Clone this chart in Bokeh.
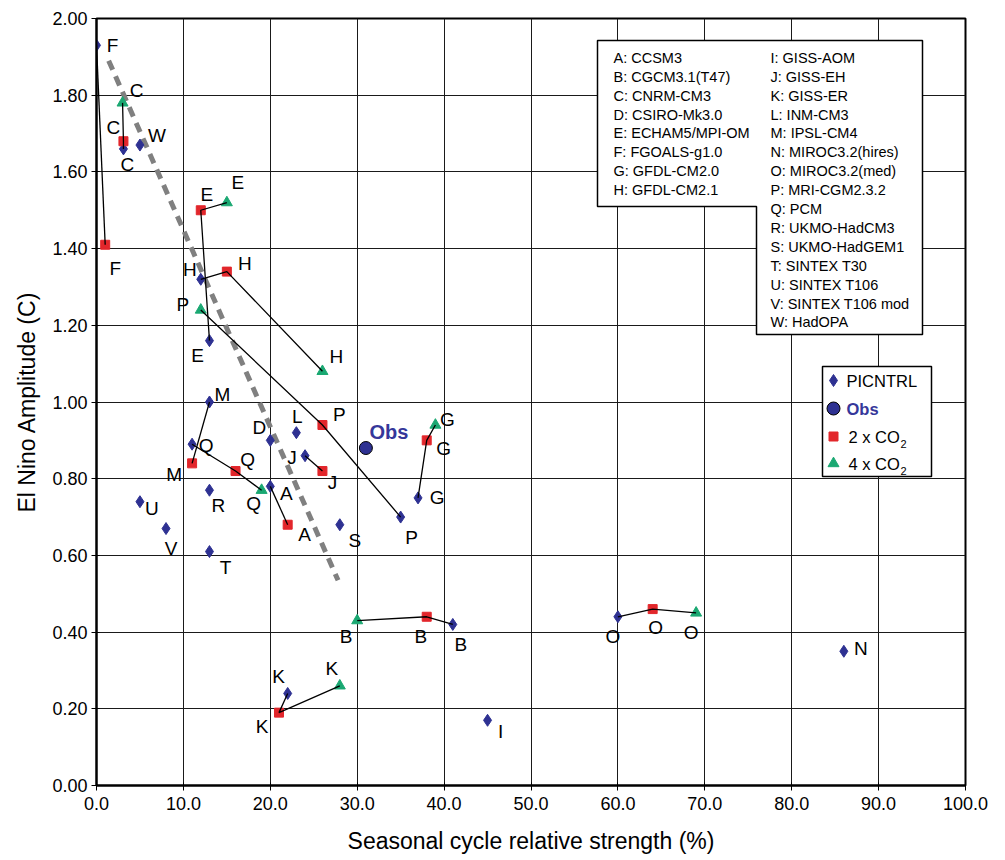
from bokeh.plotting import figure
from bokeh.models import FixedTicker, PrintfTickFormatter, ColumnDataSource, Range1d
from bokeh.core.properties import value
from bokeh.embed import file_html
from bokeh.resources import INLINE

# ---------------- data ----------------
pic_models = ["A", "B", "C", "D", "E", "F", "G", "H", "I", "J", "K", "L",
              "M", "N", "O", "P", "Q", "R", "S", "T", "U", "V", "W"]
pic_x = [20, 41, 3.1, 20, 13, 0, 37, 12, 45, 24, 22, 23,
         13, 86, 60, 35, 11, 13, 28, 13, 5, 8, 5]
pic_y = [0.78, 0.42, 1.66, 0.90, 1.16, 1.93, 0.75, 1.32, 0.17, 0.86, 0.24, 0.92,
         1.00, 0.35, 0.44, 0.70, 0.89, 0.77, 0.68, 0.61, 0.74, 0.67, 1.67]

x2_models = ["A", "B", "C", "E", "F", "G", "H", "J", "K", "M", "O", "P", "Q"]
x2_x = [22, 38, 3.1, 12, 1, 38, 15, 26, 21, 11, 64, 26, 16]
x2_y = [0.68, 0.44, 1.68, 1.50, 1.41, 0.90, 1.34, 0.82, 0.19, 0.84, 0.46, 0.94, 0.82]

x4_models = ["B", "C", "E", "G", "H", "K", "O", "P", "Q"]
x4_x = [30, 3, 15, 39, 26, 28, 69, 12, 19]
x4_y = [0.43, 1.78, 1.52, 0.94, 1.08, 0.26, 0.45, 1.24, 0.77]

obs_x = [31]
obs_y = [0.88]

trend_x = [1.4, 27.8]
trend_y = [1.89, 0.535]

model_names = ["A: CCSM3", "B: CGCM3.1(T47)", "C: CNRM-CM3", "D: CSIRO-Mk3.0",
               "E: ECHAM5/MPI-OM", "F: FGOALS-g1.0", "G: GFDL-CM2.0", "H: GFDL-CM2.1",
               "I: GISS-AOM", "J: GISS-EH", "K: GISS-ER", "L: INM-CM3", "M: IPSL-CM4",
               "N: MIROC3.2(hires)", "O: MIROC3.2(med)", "P: MRI-CGM2.3.2", "Q: PCM",
               "R: UKMO-HadCM3", "S: UKMO-HadGEM1", "T: SINTEX T30", "U: SINTEX T106",
               "V: SINTEX T106 mod", "W: HadOPA"]

x_ticks = [0, 10, 20, 30, 40, 50, 60, 70, 80, 90, 100]
y_ticks = [0.0, 0.2, 0.4, 0.6, 0.8, 1.0, 1.2, 1.4, 1.6, 1.8, 2.0]

# ---------------- layout / style ----------------
FONT = value("Liberation Sans")
NAVY = "#2e3192"
RED = "#e2262b"
GREEN = "#1aa872"

FL, FT, FW, FH = 96, 18, 869, 767   # frame geometry in page pixels
XMIN, XMAX, YMIN, YMAX = 0, 100, 0, 2


def px2x(px):
    return XMIN + (px - FL) / FW * (XMAX - XMIN)


def px2y(py):
    return YMIN + (FT + FH - py) / FH * (YMAX - YMIN)


def dxu(d):
    return d / FW * (XMAX - XMIN)


def dyu(d):
    return -d / FH * (YMAX - YMIN)


# label pixel offsets (right, down)
pic_off = {"A": (16, 7), "B": (8, 20), "C": (4, 16), "D": (-11, -13), "E": (-12, 15),
           "F": (16, 0), "G": (19, 0), "H": (-11, -10), "I": (13, 11), "J": (-13, 2),
           "K": (-9, -17), "L": (1, -16), "M": (13, -8), "N": (17, -3), "O": (-5, 20),
           "P": (11, 20), "Q": (14, 1), "R": (9, 15), "S": (15, 16), "T": (16, 16),
           "U": (12, 7), "V": (5, 20), "W": (17, -10)}
x2_off = {"A": (17, 10), "B": (-6, 20), "C": (-10, -14), "E": (6, -16), "F": (10, 24),
          "G": (17, 8), "H": (18, -8), "J": (10, 11), "K": (-17, 14), "M": (-18, 11),
          "O": (3, 18), "P": (17, -11), "Q": (12, -12)}
x4_off = {"B": (-11, 16), "C": (14, -12), "E": (11, -20), "G": (12, -6), "H": (14, -15),
          "K": (-8, -17), "O": (-5, 20), "P": (-18, -5), "Q": (-8, 13)}
obs_off = (23, -16)

p = figure(frame_width=FW, frame_height=FH,
           x_range=Range1d(XMIN, XMAX), y_range=Range1d(YMIN, YMAX),
           output_backend="svg", toolbar_location=None,
           min_border_left=FL, min_border_top=FT,
           min_border_right=30, min_border_bottom=75)
p.background_fill_color = "white"
p.border_fill_color = "white"
p.outline_line_color = "black"
p.outline_line_width = 2

for ax, ticks, fmt in ((p.xaxis[0], x_ticks, "%.1f"), (p.yaxis[0], y_ticks, "%.2f")):
    ax.ticker = FixedTicker(ticks=ticks)
    ax.formatter = PrintfTickFormatter(format=fmt)
    ax.axis_line_width = 2
    ax.axis_line_color = "black"
    ax.major_tick_line_color = "black"
    ax.major_tick_out = 5
    ax.major_tick_in = 3
    ax.minor_tick_line_color = None
    ax.major_label_text_font = "Liberation Sans"
    ax.major_label_text_font_size = "18px"
    ax.major_label_text_color = "black"
    ax.axis_label_text_font = "Liberation Sans"
    ax.axis_label_text_font_size = "23px"
    ax.axis_label_text_font_style = "normal"
    ax.axis_label_text_color = "black"
    ax.major_label_standoff = 4

p.xaxis.axis_label = "Seasonal cycle relative strength (%)"
p.yaxis.axis_label = "El Nino Amplitude (C)"
p.xaxis.major_label_standoff = 6
p.xaxis.axis_label_standoff = 15
p.yaxis.axis_label_standoff = 9

p.xgrid.ticker = FixedTicker(ticks=x_ticks)
p.ygrid.ticker = FixedTicker(ticks=y_ticks)
for g in (p.xgrid[0], p.ygrid[0]):
    g.grid_line_color = "#1a1a1a"
    g.grid_line_width = 1

# trend (gray dashed)
p.line(trend_x, trend_y, line_color="#808080", line_width=5, line_dash="10 7")


def make_src(models, xs, ys, off):
    lx = [x + dxu(off[m][0]) for m, x in zip(models, xs)]
    ly = [y + dyu(off[m][1]) for m, y in zip(models, ys)]
    return ColumnDataSource(dict(x=xs, y=ys, m=models, lx=lx, ly=ly))


s_pic = make_src(pic_models, pic_x, pic_y, pic_off)
s_x2 = make_src(x2_models, x2_x, x2_y, x2_off)
s_x4 = make_src(x4_models, x4_x, x4_y, x4_off)

p.scatter("x", "y", source=s_pic, marker="diamond", size=12, fill_color=NAVY, line_color=NAVY)
p.scatter("x", "y", source=s_x2, marker="square", size=9, fill_color=RED, line_color=RED)
p.scatter("x", "y", source=s_x4, marker="triangle", size=11, fill_color=GREEN, line_color=GREEN)
p.scatter(obs_x, obs_y, marker="circle", size=13, fill_color=NAVY, line_color="black", line_width=1)

# connecting lines PICNTRL -> 2xCO2 -> 4xCO2 per model
pic_d = dict(zip(pic_models, zip(pic_x, pic_y)))
x2_d = dict(zip(x2_models, zip(x2_x, x2_y)))
x4_d = dict(zip(x4_models, zip(x4_x, x4_y)))
mxs, mys = [], []
for m in pic_models:
    pts = [d[m] for d in (pic_d, x2_d, x4_d) if m in d]
    if len(pts) > 1:
        mxs.append([q[0] for q in pts])
        mys.append([q[1] for q in pts])
p.multi_line(mxs, mys, line_color="black", line_width=1.3)

for s in (s_pic, s_x2, s_x4):
    p.text("lx", "ly", text="m", source=s, text_font=FONT, text_font_size="19px",
           text_color="black", text_align="center", text_baseline="middle")

p.text([obs_x[0] + dxu(obs_off[0])], [obs_y[0] + dyu(obs_off[1])], text=["Obs"],
       text_font=FONT, text_font_size="20px", text_font_style="bold",
       text_color="#35379a", text_align="center", text_baseline="middle")

# ---------------- model legend box ----------------
bx = [597, 922, 922, 756, 756, 597]
by = [40, 40, 334, 334, 206, 206]
p.patch([px2x(v) for v in bx], [px2y(v) for v in by], fill_color="white",
        line_color="black", line_width=1.5)
row0, dr = 57.3, 18.9
lx_, ly_ = [], []
for i, name in enumerate(model_names):
    if i < 8:
        lx_.append(px2x(613)); ly_.append(px2y(row0 + i * dr))
    else:
        lx_.append(px2x(770)); ly_.append(px2y(row0 + (i - 8) * dr))
p.text(lx_, ly_, text=model_names, text_font=FONT, text_font_size="14.5px",
       text_color="black", text_align="left", text_baseline="middle")

# ---------------- symbol legend box ----------------
p.quad(left=[px2x(822)], right=[px2x(931)], top=[px2y(366)], bottom=[px2y(476)],
       fill_color="white", line_color="black", line_width=1.5)
p.scatter([px2x(833)], [px2y(380)], marker="diamond", size=12, fill_color=NAVY, line_color=NAVY)
p.scatter([px2x(833)], [px2y(408)], marker="circle", size=13, fill_color=NAVY, line_color="black")
p.scatter([px2x(833)], [px2y(436)], marker="square", size=9, fill_color=RED, line_color=RED)
p.scatter([px2x(833)], [px2y(463)], marker="triangle", size=11, fill_color=GREEN, line_color=GREEN)
p.text([px2x(846)], [px2y(380)], text=["PICNTRL"], text_font=FONT, text_font_size="16.5px",
       text_color="black", text_align="left", text_baseline="middle")
p.text([px2x(846)], [px2y(408)], text=["Obs"], text_font=FONT, text_font_size="16.5px",
       text_font_style="bold", text_color="#35379a", text_align="left", text_baseline="middle")
p.text([px2x(848), px2x(848)], [px2y(436), px2y(463)], text=["2 x CO", "4 x CO"],
       text_font=FONT, text_font_size="16.5px", text_color="black",
       text_align="left", text_baseline="middle")
p.text([px2x(900), px2x(900)], [px2y(443), px2y(470)], text=["2", "2"],
       text_font=FONT, text_font_size="11px", text_color="black",
       text_align="left", text_baseline="middle")

open("out.html", "w").write(file_html(p, INLINE))
